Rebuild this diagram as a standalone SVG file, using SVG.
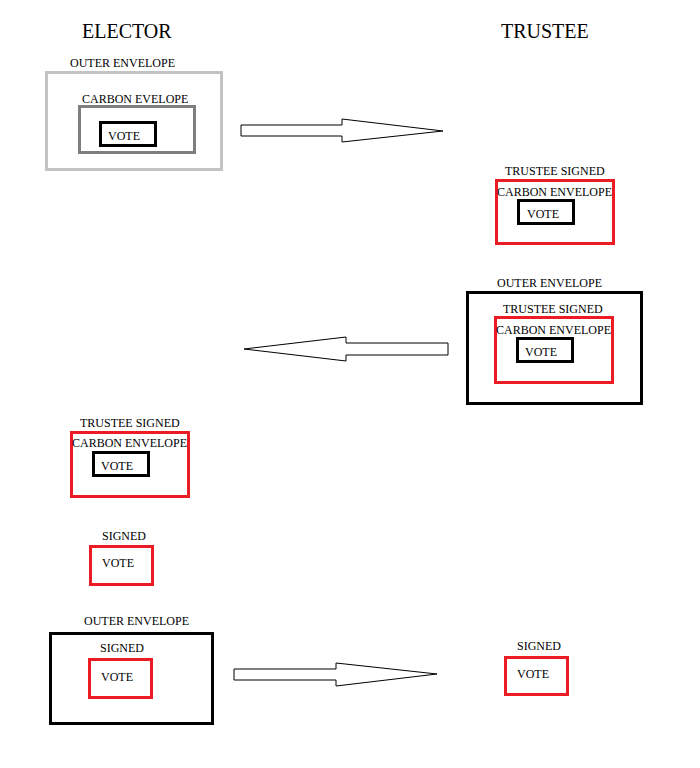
<svg xmlns="http://www.w3.org/2000/svg" width="700" height="768" viewBox="0 0 700 768">
<style>
text{font-family:"Liberation Serif","Times New Roman",serif;font-size:12px;fill:#000}
.h{font-size:20px}
.box{fill:none;stroke-width:3}
.blk{stroke:#000}
.red{stroke:#ed1c24}
.arrow{fill:#fff;stroke:#000;stroke-width:1}
</style>
<rect width="700" height="768" fill="#fff"/>
<text class="h" x="82" y="38">ELECTOR</text>
<text class="h" x="501" y="38">TRUSTEE</text>

<g id="elector-outer">
<text x="70" y="67">OUTER ENVELOPE</text>
<rect class="box" x="46.5" y="72.5" width="175" height="97" stroke="#c3c3c3"/>
<text x="82" y="103">CARBON EVELOPE</text>
<rect class="box" x="79.5" y="106.5" width="115" height="46" stroke="#7f7f7f"/>
<rect class="box blk" x="100.5" y="122.5" width="55" height="23"/>
<text x="108" y="140">VOTE</text>
</g>

<g id="trustee-carbon">
<text x="505" y="175">TRUSTEE SIGNED</text>
<rect class="box red" x="496.5" y="180.5" width="117" height="63"/>
<text x="497" y="196">CARBON ENVELOPE</text>
<rect class="box blk" x="518.5" y="200.5" width="55" height="23"/>
<text x="527" y="218">VOTE</text>
</g>

<g id="trustee-outer">
<text x="497" y="287">OUTER ENVELOPE</text>
<rect class="box blk" x="467.5" y="292.5" width="174" height="111"/>
<text x="503" y="313">TRUSTEE SIGNED</text>
<rect class="box red" x="495.5" y="317.5" width="117" height="65"/>
<text x="496" y="334">CARBON ENVELOPE</text>
<rect class="box blk" x="517.5" y="338.5" width="55" height="23"/>
<text x="525" y="356">VOTE</text>
</g>

<g id="elector-carbon">
<text x="80" y="427">TRUSTEE SIGNED</text>
<rect class="box red" x="71.5" y="432.5" width="117" height="64"/>
<text x="72" y="447">CARBON ENVELOPE</text>
<rect class="box blk" x="93.5" y="452.5" width="55" height="23"/>
<text x="101" y="470">VOTE</text>
</g>

<g id="elector-signed">
<text x="102" y="540">SIGNED</text>
<rect class="box red" x="90.5" y="546.5" width="62" height="38"/>
<text x="102" y="567">VOTE</text>
</g>

<g id="elector-outer-signed">
<text x="84" y="625">OUTER ENVELOPE</text>
<rect class="box blk" x="50.5" y="633.5" width="162" height="90"/>
<text x="100" y="652">SIGNED</text>
<rect class="box red" x="89.5" y="659.5" width="62" height="38"/>
<text x="101" y="681">VOTE</text>
</g>

<g id="trustee-signed">
<text x="517" y="650">SIGNED</text>
<rect class="box red" x="505.5" y="657.5" width="62" height="37"/>
<text x="517" y="678">VOTE</text>
</g>

<g id="connectors">
<polygon class="arrow" points="241,125 342,125 342,119 443,131 342,142 342,136 241,136"/>
<polygon class="arrow" points="448,343 346,343 346,337 244,349 346,361 346,355 448,355"/>
<polygon class="arrow" points="234,669 336,669 336,663 437,674 336,686 336,680 234,680"/>
</g>
</svg>
